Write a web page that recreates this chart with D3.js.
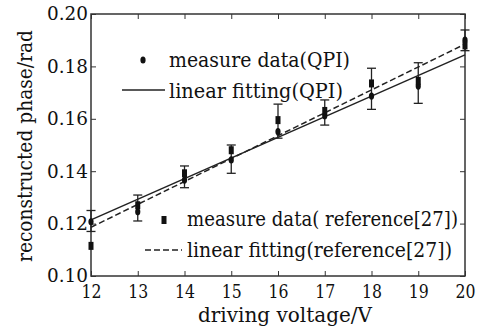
<!DOCTYPE html>
<meta charset="utf-8">
<style>
  body { margin: 0; background: #fff; }
  .axis path { display: none; }
  .axis line { stroke: #333; stroke-width: 1; }
  .axis text { font-size: 18px; fill: #111; }
</style>
<body>
<svg width="489" height="330"></svg>
<script src="https://d3js.org/d3.v7.min.js"></script>
<script>
  // values
  const voltage = [12, 13, 14, 15, 16, 17, 18, 19, 20];
  const qpi     = [0.1207, 0.1245, 0.1366, 0.1443, 0.1551, 0.1612, 0.1687, 0.1725, 0.1900];
  const ref27   = [0.1115, 0.1270, 0.1392, 0.1480, 0.1595, 0.1630, 0.1735, 0.1745, 0.1880];
  const errLow  = [0.1170, 0.1210, 0.1337, 0.1392, 0.1526, 0.1576, 0.1636, 0.1659, 0.1860];
  const errHigh = [0.1250, 0.1309, 0.1420, 0.1500, 0.1656, 0.1672, 0.1793, 0.1814, 0.1939];
  const fitX    = [12, 20];
  const fitQpi  = [0.1214, 0.1844];
  const fitRef  = [0.1186, 0.1885];
  const xTicks  = [12, 13, 14, 15, 16, 17, 18, 19, 20];
  const yTicks  = [0.10, 0.12, 0.14, 0.16, 0.18, 0.20];

  const serif = "font-family: 'DejaVu Serif', 'Liberation Serif', serif";
  const svg = d3.select("svg");
  const margin = {top: 14, right: 24, bottom: 54, left: 91};
  const width = 465 - margin.left;
  const height = 276 - margin.top;

  const x = d3.scaleLinear().domain([12, 20]).range([0, width]);
  const y = d3.scaleLinear().domain([0.10, 0.20]).range([height, 0]);

  const g = svg.append("g")
      .attr("transform", `translate(${margin.left},${margin.top})`);

  // axes with inward ticks, MATLAB style box
  g.append("g")
      .attr("class", "axis")
      .attr("transform", `translate(0,${height})`)
      .call(d3.axisBottom(x).tickValues(xTicks).tickSize(-5).tickPadding(9).tickFormat(d3.format("d")))
    .selectAll("text")
      .attr("style", serif)
      .attr("textLength", 20).attr("lengthAdjust", "spacingAndGlyphs");

  g.append("g")
      .attr("class", "axis")
      .call(d3.axisLeft(y).tickValues(yTicks).tickSize(-5).tickPadding(3).tickFormat(d3.format(".2f")))
    .selectAll("text")
      .attr("style", serif)
      .attr("dy", "0.33em")
      .attr("textLength", 41).attr("lengthAdjust", "spacingAndGlyphs");

  g.append("g")
      .attr("class", "axis")
      .call(d3.axisTop(x).tickValues(xTicks).tickSize(-5).tickFormat(""));

  g.append("g")
      .attr("class", "axis")
      .attr("transform", `translate(${width},0)`)
      .call(d3.axisRight(y).tickValues(yTicks).tickSize(-5).tickFormat(""));

  g.append("rect")
      .attr("width", width)
      .attr("height", height)
      .attr("fill", "none")
      .attr("stroke", "#333")
      .attr("stroke-width", 1.5);

  // fitted lines
  const line = d3.line().x(d => x(d[0])).y(d => y(d[1]));
  g.append("path")
      .datum(fitX.map((v, i) => [v, fitQpi[i]]))
      .attr("d", line)
      .attr("fill", "none")
      .attr("stroke", "#222")
      .attr("stroke-width", 1.5);
  g.append("path")
      .datum(fitX.map((v, i) => [v, fitRef[i]]))
      .attr("d", line)
      .attr("fill", "none")
      .attr("stroke", "#222")
      .attr("stroke-width", 1.5)
      .attr("stroke-dasharray", "6,3");

  // error bars
  const eb = g.selectAll(".eb")
    .data(voltage.map((v, i) => ({v, lo: errLow[i], hi: errHigh[i]})))
    .enter().append("g")
      .attr("class", "eb")
      .attr("stroke", "#222")
      .attr("stroke-width", 1.3);
  eb.append("line")
      .attr("x1", d => x(d.v)).attr("x2", d => x(d.v))
      .attr("y1", d => y(d.lo)).attr("y2", d => y(d.hi));
  eb.append("line")
      .attr("x1", d => x(d.v) - 4.5).attr("x2", d => x(d.v) + 4.5)
      .attr("y1", d => y(d.lo)).attr("y2", d => y(d.lo));
  eb.append("line")
      .attr("x1", d => x(d.v) - 4.5).attr("x2", d => x(d.v) + 4.5)
      .attr("y1", d => y(d.hi)).attr("y2", d => y(d.hi));

  // markers
  g.selectAll(".qpi")
    .data(voltage.map((v, i) => [v, qpi[i]]))
    .enter().append("ellipse")
      .attr("class", "qpi")
      .attr("cx", d => x(d[0]))
      .attr("cy", d => y(d[1]))
      .attr("rx", 2.6).attr("ry", 3.6)
      .attr("fill", "#111");

  g.selectAll(".ref")
    .data(voltage.map((v, i) => [v, ref27[i]]))
    .enter().append("rect")
      .attr("class", "ref")
      .attr("x", d => x(d[0]) - 2.5)
      .attr("y", d => y(d[1]) - 4)
      .attr("width", 5).attr("height", 8)
      .attr("fill", "#111");

  // legends
  const txt = (px, py, s, len) => svg.append("text")
      .attr("x", px).attr("y", py)
      .attr("style", serif)
      .attr("font-size", 21)
      .attr("fill", "#111")
      .attr("textLength", len).attr("lengthAdjust", "spacingAndGlyphs")
      .text(s);

  svg.append("ellipse").attr("cx", 143).attr("cy", 60).attr("rx", 2.6).attr("ry", 3.6).attr("fill", "#111");
  txt(169, 67, "measure data(QPI)", 181);
  svg.append("line").attr("x1", 122).attr("x2", 165).attr("y1", 90).attr("y2", 90)
      .attr("stroke", "#222").attr("stroke-width", 1.5);
  txt(169, 98, "linear fitting(QPI)", 174);

  svg.append("rect").attr("x", 161.5).attr("y", 216).attr("width", 5).attr("height", 8).attr("fill", "#111");
  txt(187, 226, "measure data( reference[27])", 271);
  svg.append("line").attr("x1", 145).attr("x2", 182).attr("y1", 250).attr("y2", 250)
      .attr("stroke", "#222").attr("stroke-width", 1.5).attr("stroke-dasharray", "6,3");
  txt(187, 257, "linear fitting(reference[27])", 265);

  // axis titles
  svg.append("text")
      .attr("x", 285).attr("y", 322)
      .attr("text-anchor", "middle")
      .attr("style", serif)
      .attr("font-size", 21)
      .attr("fill", "#111")
      .attr("textLength", 174).attr("lengthAdjust", "spacingAndGlyphs")
      .text("driving voltage/V");

  svg.append("text")
      .attr("transform", "translate(32,146) rotate(-90)")
      .attr("text-anchor", "middle")
      .attr("style", serif)
      .attr("font-size", 21)
      .attr("fill", "#111")
      .attr("textLength", 232).attr("lengthAdjust", "spacingAndGlyphs")
      .text("reconstructed phase/rad");
</script>
</body>
</html>
